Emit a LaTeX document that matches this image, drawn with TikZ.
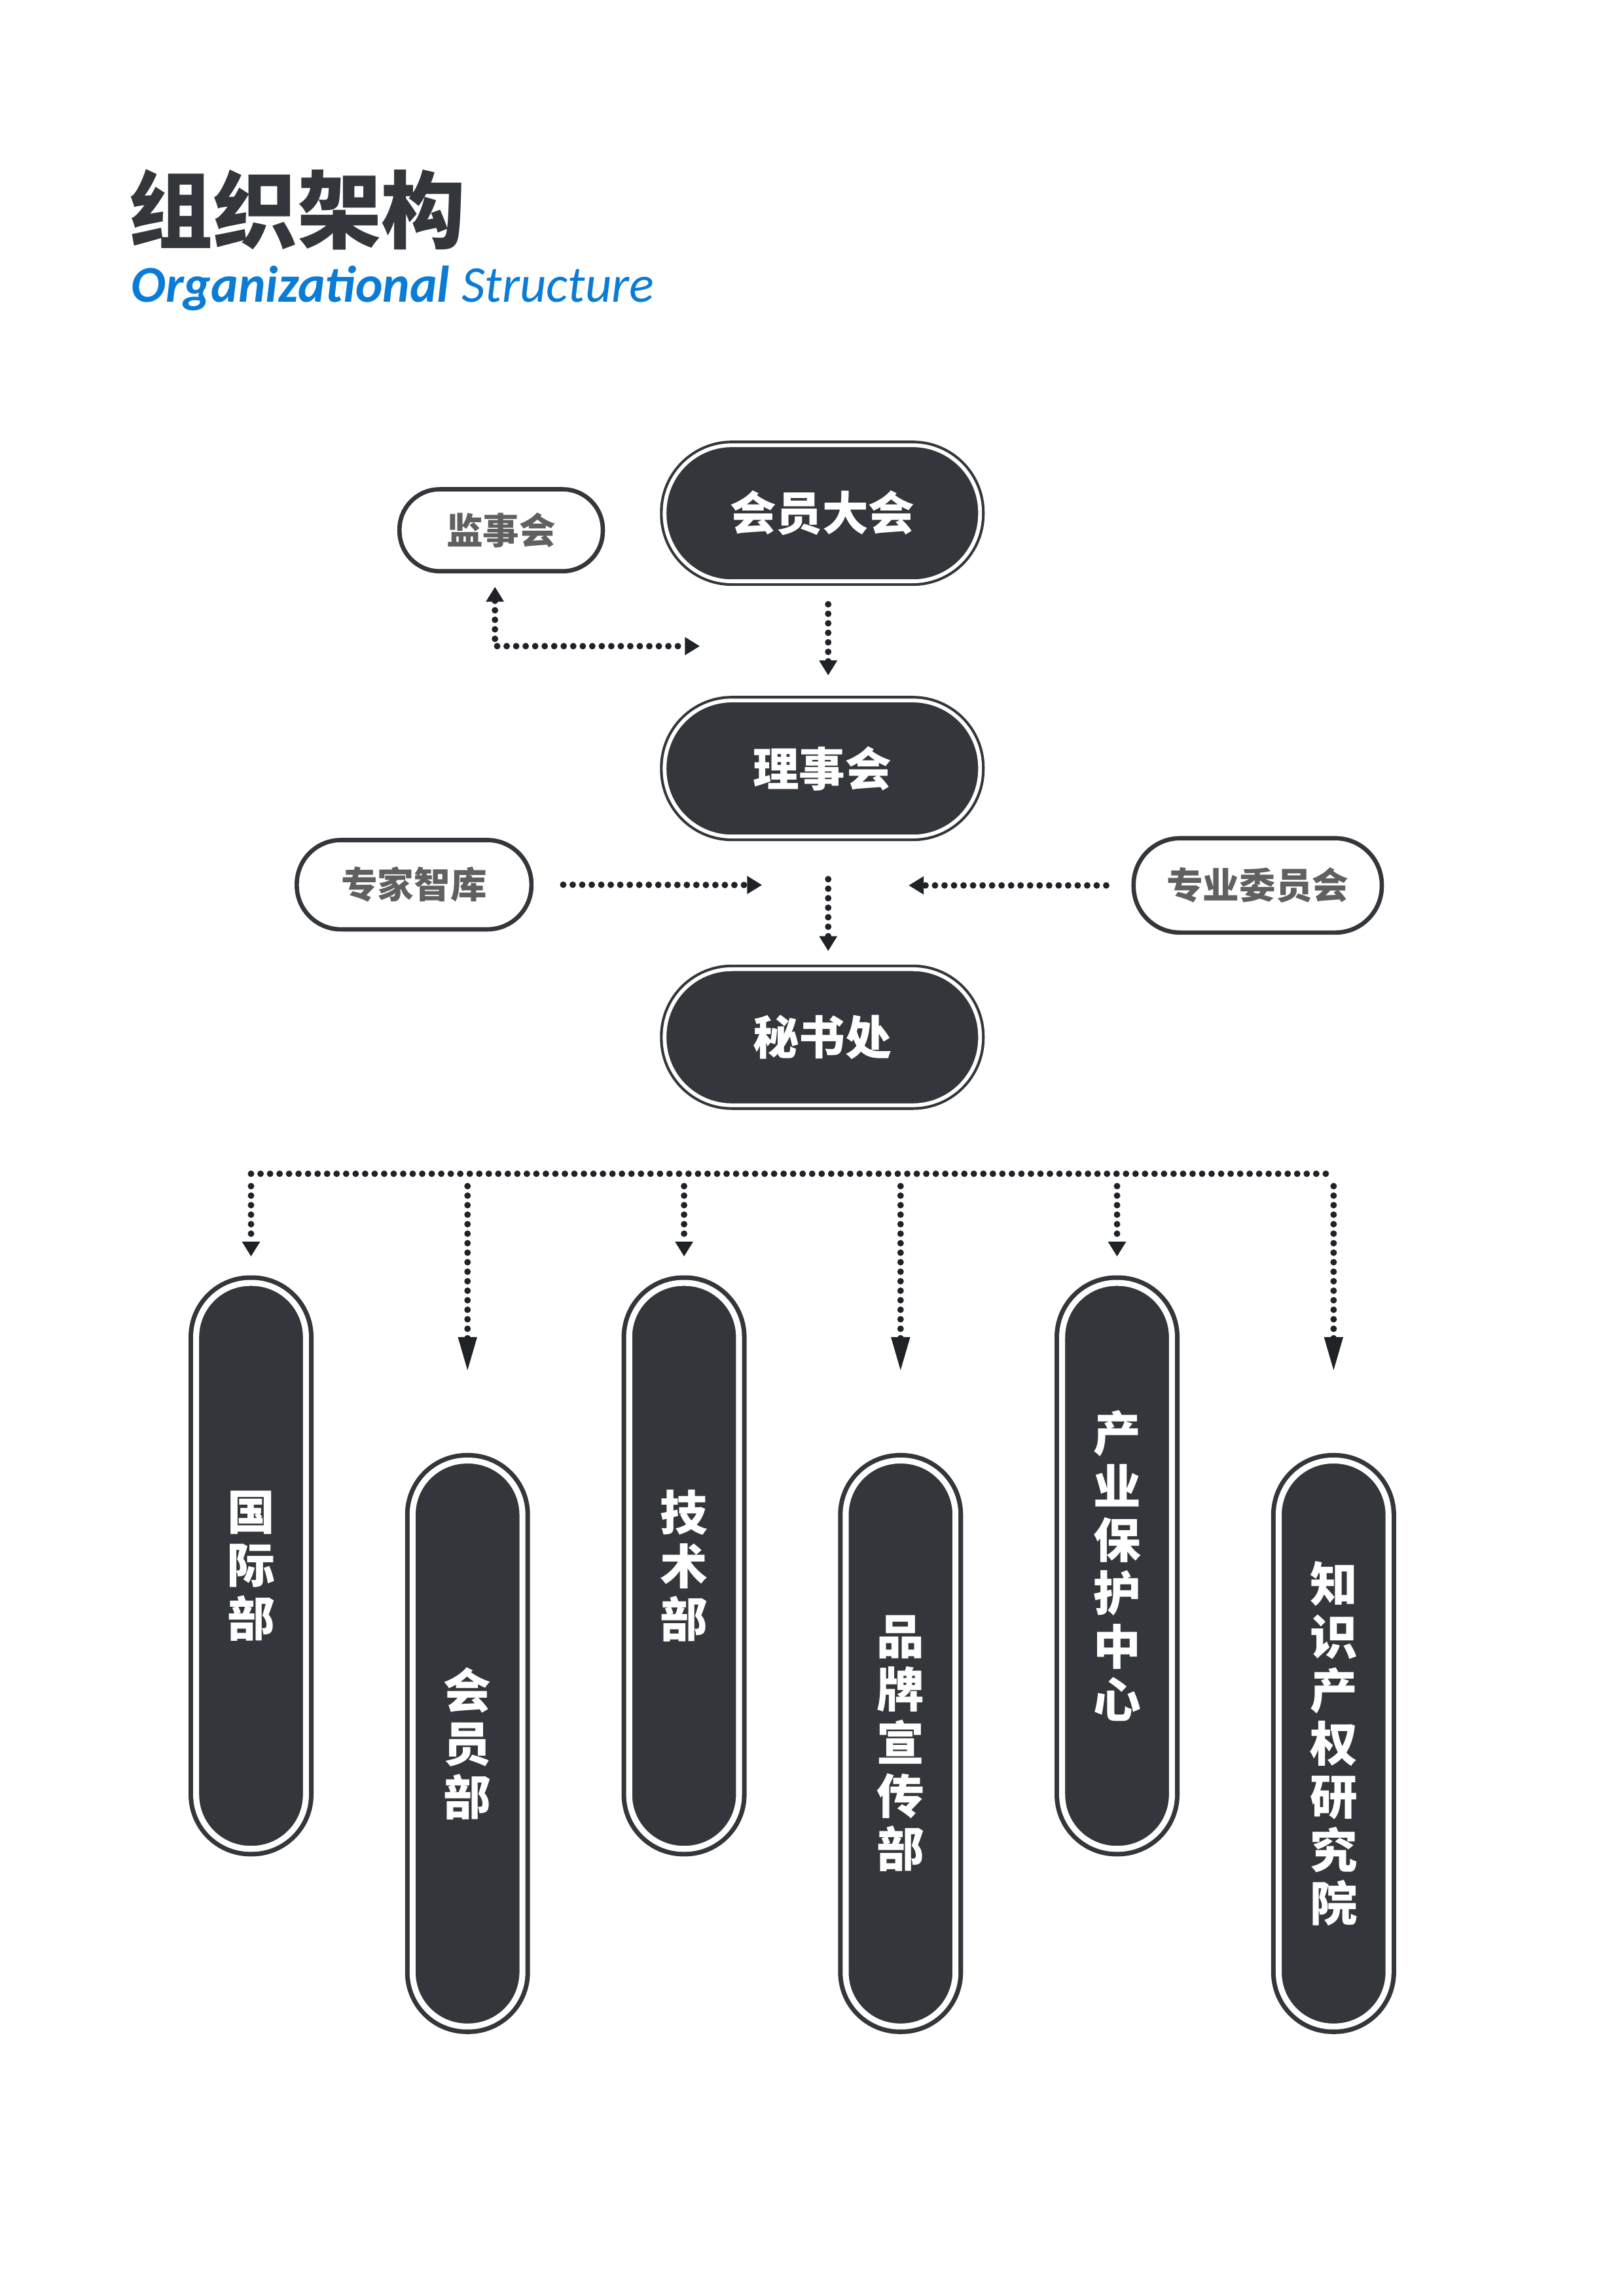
\documentclass[tikz,border=0pt]{standalone}
\usepackage{fontspec}
\usepackage{tikz}
\usetikzlibrary{arrows.meta}
\usetikzlibrary{positioning}
\usepackage{xcolor}
\setmainfont{Carlito}
\newfontfamily\cjk{Noto Sans CJK SC}
\definecolor{ink}{HTML}{33363A}
\definecolor{arrowink}{HTML}{1F2328}
\definecolor{graytext}{HTML}{606060}
\definecolor{titleblue}{HTML}{0A7CD6}

\begin{document}
\begin{tikzpicture}[
    darkbox/.style={draw=ink, fill=ink, double=white, inner sep=0pt, text=white},
    wide/.style={darkbox, line width=1pt, double distance=1.4pt, minimum width=4.08cm, minimum height=1.76cm, rounded corners=0.87cm, font=\cjk\bfseries\fontsize{17}{19}\selectfont},
    tall/.style={darkbox, line width=1.7pt, double distance=2.2pt, minimum width=1.42cm, minimum height=7.32cm, rounded corners=0.7cm, align=center, font=\cjk\bfseries\fontsize{17.5}{19.6}\selectfont},
    lightbox/.style={draw=ink, fill=white, line width=1.6pt, inner sep=0pt, text=graytext, font=\cjk\bfseries\fontsize{13.4}{15}\selectfont},
    dots/.style={draw=arrowink, line width=2.4pt, line cap=round, dash pattern=on 0pt off 3.5pt},
    arrowend/.style={-{Triangle[length=5.5pt, width=6.3pt]}},
    longarrow/.style={-{Triangle[length=13pt, width=6.3pt]}},
]
\useasboundingbox (0,0) rectangle (21,-29.7);

\node[anchor=west, inner sep=0pt, text=ink, font=\cjk\bfseries\fontsize{31}{31}\selectfont] (title) at (1.66,-2.71) {组织架构};
\node[anchor=base west, inner sep=0pt, text=titleblue, font=\fontsize{19}{21}\selectfont] (subtitle) at (1.69,-3.904) {\bfseries\itshape Organizational \mdseries Structure};

\node[wide] (hydh) at (10.636,-6.639) {会员大会};
\node[wide] (lsh) at (10.636,-9.941) {理事会};
\node[wide] (msc) at (10.636,-13.417) {秘书处};

\node[lightbox, minimum width=2.63cm, minimum height=1.06cm, rounded corners=0.52cm] (jsh) at (6.482,-6.859) {监事会};
\node[lightbox, minimum width=3.035cm, minimum height=1.155cm, rounded corners=0.57cm] (zjzk) at (5.356,-11.444) {专家智库};
\node[lightbox, minimum width=3.21cm, minimum height=1.22cm, rounded corners=0.6cm] (zywyh) at (16.267,-11.453) {专业委员会};

\node[tall] (gjb) at (3.247,-20.255) {国\\际\\部};
\node[tall] (hyb) at (6.047,-22.553) {会\\员\\部};
\node[tall] (jsb) at (8.848,-20.255) {技\\术\\部};
\node[tall] (ppb) at (11.648,-22.553) {品\\牌\\宣\\传\\部};
\node[tall] (cybh) at (14.448,-20.255) {产\\业\\保\\护\\中\\心};
\node[tall] (zscq) at (17.249,-22.553) {知\\识\\产\\权\\研\\究\\院};

\coordinate (jsh-end) at (9.052,-8.358);
\coordinate (zj-end) at (9.857,-11.448);
\coordinate (zy-end) at (11.753,-11.453);
\coordinate (bus) at (0,-15.183);

\draw[dots, arrowend] ([xshift=0.076cm,yshift=-0.28cm]hydh.south) -- ([xshift=0.076cm,yshift=0.306cm]lsh.north);
\draw[dots, {Triangle[length=5.5pt, width=6.3pt]}-{Triangle[length=5.5pt, width=6.3pt]}] ([xshift=-0.08cm,yshift=-0.173cm]jsh.south) |- (jsh-end);
\draw[dots, arrowend] ([xshift=0.076cm,yshift=-0.534cm]lsh.south) -- ([xshift=0.076cm,yshift=0.217cm]msc.north);
\draw[dots, arrowend] ([xshift=0.383cm]zjzk.east) -- (zj-end);
\draw[dots, arrowend] ([xshift=-0.326cm]zywyh.west) -- (zy-end);

\draw[dots] (gjb.north |- bus) -- (zscq.north |- bus);
\foreach \n in {gjb,jsb,cybh}
    \draw[dots, arrowend] ([yshift=-0.16cm]\n.north |- bus) -- ([yshift=0.311cm]\n.north);
\foreach \n in {hyb,ppb,zscq}
    \draw[dots, longarrow] ([yshift=-0.16cm]\n.north |- bus) -- ([yshift=1.111cm]\n.north);
\end{tikzpicture}
\end{document}
